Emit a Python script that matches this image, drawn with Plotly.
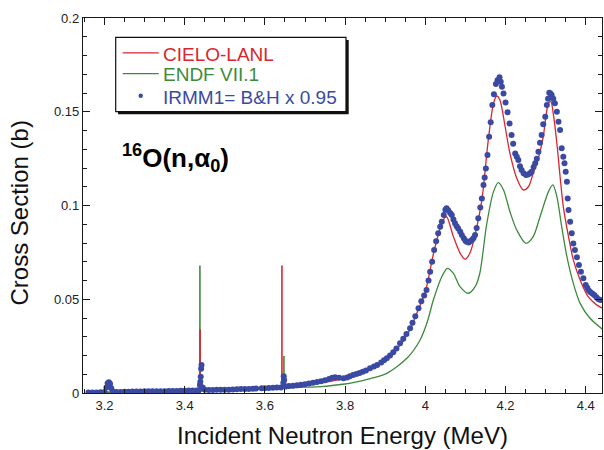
import plotly.graph_objects as go

# ---------------- data ----------------
cielo_e = [3.16, 3.20, 3.30, 3.40, 3.45, 3.50, 3.55, 3.60, 3.65, 3.70, 3.75, 3.80, 3.82,
           3.86, 3.90, 3.94, 3.96, 3.98, 4.00, 4.02, 4.035, 4.045, 4.053, 4.07, 4.087,
           4.099, 4.111, 4.124, 4.141, 4.157, 4.170, 4.178, 4.186, 4.199, 4.211, 4.228,
           4.244, 4.257, 4.269, 4.284, 4.294, 4.307, 4.313, 4.319, 4.328, 4.336, 4.344,
           4.357, 4.369, 4.386, 4.406, 4.427, 4.444]
cielo_xs = [0.0003, 0.0004, 0.0007, 0.0012, 0.0015, 0.0018, 0.0021, 0.0025, 0.0031, 0.0041,
            0.0057, 0.0078, 0.0088, 0.0122, 0.0175, 0.0262, 0.0332, 0.0432, 0.0540, 0.0740,
            0.0865, 0.0925, 0.0940, 0.0834, 0.0745, 0.0713, 0.0745, 0.0843, 0.1030, 0.1350,
            0.1545, 0.1584, 0.1563, 0.1420, 0.1278, 0.1145, 0.1083, 0.1100, 0.1172, 0.1270,
            0.1367, 0.1545, 0.1554, 0.1490, 0.1332, 0.1154, 0.0994, 0.0834, 0.0710, 0.0603,
            0.0514, 0.0470, 0.0450]

endf_e = [3.16, 3.30, 3.40, 3.50, 3.60, 3.65, 3.70, 3.74, 3.80, 3.82, 3.86, 3.904, 3.954,
          3.987, 4.005, 4.020, 4.041, 4.055, 4.07, 4.0865, 4.107, 4.125, 4.136, 4.153,
          4.170, 4.182, 4.195, 4.211, 4.228, 4.251, 4.269, 4.286, 4.307, 4.318, 4.328,
          4.340, 4.353, 4.369, 4.386, 4.410, 4.444]
endf_xs = [0.0003, 0.0006, 0.0011, 0.0016, 0.0022, 0.0026, 0.0031, 0.0034, 0.0048, 0.0055,
           0.0075, 0.0105, 0.0185, 0.0283, 0.0380, 0.0496, 0.0620, 0.0665, 0.0638, 0.0567,
           0.0532, 0.0570, 0.0640, 0.0900, 0.1074, 0.1122, 0.1083, 0.0967, 0.0869, 0.0798,
           0.0834, 0.0940, 0.1074, 0.1110, 0.1047, 0.0887, 0.0727, 0.0585, 0.0478, 0.0400,
           0.0336]

# narrow resonance spikes: energy, base, top
cielo_spike_e = [3.4385, 3.6425]
cielo_spike_base = [0.0014, 0.0030]
cielo_spike_top = [0.0340, 0.0680]
endf_spike_e = [3.438, 3.6475]
endf_spike_base = [0.0013, 0.0027]
endf_spike_top = [0.0680, 0.0197]

irmm_e = [3.160, 3.170, 3.180, 3.190, 3.200, 3.205, 3.208, 3.211, 3.214, 3.217, 3.222,
          3.230, 3.240, 3.250, 3.260, 3.270, 3.280, 3.290, 3.300, 3.310, 3.320, 3.330,
          3.340, 3.350, 3.360, 3.370, 3.380, 3.390, 3.400, 3.410, 3.420, 3.430, 3.436,
          3.438, 3.439, 3.440, 3.441, 3.442, 3.445, 3.450, 3.460, 3.470, 3.480, 3.490,
          3.500, 3.510, 3.520, 3.530, 3.540, 3.550, 3.560, 3.570, 3.578, 3.592, 3.600,
          3.610, 3.620, 3.630, 3.640, 3.646, 3.647, 3.648, 3.652, 3.660, 3.670, 3.680,
          3.690, 3.700, 3.710, 3.720, 3.730, 3.740, 3.750, 3.760, 3.768, 3.775, 3.785,
          3.796, 3.805, 3.812, 3.820, 3.828, 3.836, 3.844, 3.852, 3.862, 3.872, 3.880,
          3.890, 3.897, 3.904, 3.912, 3.920, 3.928, 3.937, 3.945, 3.953, 3.962, 3.968,
          3.975, 3.983, 3.990, 3.997, 4.003, 4.008, 4.012, 4.017, 4.022, 4.027, 4.032,
          4.037, 4.041, 4.046, 4.050, 4.053, 4.057, 4.062, 4.066, 4.070, 4.074, 4.078,
          4.082, 4.087, 4.091, 4.096, 4.100, 4.103, 4.108, 4.112, 4.116, 4.120, 4.124,
          4.128, 4.132, 4.137, 4.141, 4.145, 4.148, 4.151, 4.155, 4.159, 4.163, 4.167,
          4.171, 4.176, 4.180, 4.185, 4.188, 4.191, 4.195, 4.200, 4.205, 4.210, 4.215,
          4.219, 4.224, 4.228, 4.232, 4.236, 4.240, 4.245, 4.251, 4.256, 4.261, 4.265,
          4.270, 4.274, 4.278, 4.282, 4.286, 4.290, 4.294, 4.299, 4.303, 4.306, 4.309,
          4.312, 4.315, 4.319, 4.323, 4.328, 4.332, 4.336, 4.340, 4.344, 4.347, 4.350,
          4.353, 4.355, 4.357, 4.361, 4.365, 4.369, 4.373, 4.378, 4.383, 4.388, 4.394,
          4.400, 4.404, 4.408, 4.412, 4.417, 4.422, 4.427, 4.432, 4.437]
irmm_xs = [0.0003, 0.0003, 0.0003, 0.0004, 0.0006, 0.0030, 0.0052, 0.0058, 0.0050, 0.0025,
           0.0007, 0.0006, 0.0006, 0.0007, 0.0007, 0.0008, 0.0008, 0.0008, 0.0009, 0.0009,
           0.0009, 0.0010, 0.0010, 0.0010, 0.0011, 0.0011, 0.0011, 0.0012, 0.0012, 0.0013,
           0.0013, 0.0014, 0.0015, 0.0043, 0.0060, 0.0087, 0.0130, 0.0149, 0.0030, 0.0017,
           0.0016, 0.0016, 0.0017, 0.0017, 0.0018, 0.0018, 0.0019, 0.0020, 0.0021, 0.0022,
           0.0022, 0.0023, 0.0024, 0.0025, 0.0026, 0.0027, 0.0028, 0.0029, 0.0030, 0.0055,
           0.0090, 0.0070, 0.0035, 0.0037, 0.0039, 0.0042, 0.0044, 0.0047, 0.0051, 0.0055,
           0.0059, 0.0063, 0.0068, 0.0075, 0.0081, 0.0084, 0.0081, 0.0079, 0.0083, 0.0089,
           0.0096, 0.0101, 0.0107, 0.0113, 0.0120, 0.0132, 0.0142, 0.0150, 0.0163, 0.0175,
           0.0185, 0.0200, 0.0218, 0.0238, 0.0265, 0.0290, 0.0315, 0.0345, 0.0375, 0.0410,
           0.0452, 0.0490, 0.0520, 0.0550, 0.0600, 0.0647, 0.0700, 0.0763, 0.0810, 0.0852,
           0.0887, 0.0914, 0.0950, 0.0978, 0.0985, 0.0975, 0.0960, 0.0949, 0.0925, 0.0905,
           0.0890, 0.0878, 0.0860, 0.0843, 0.0825, 0.0812, 0.0807, 0.0803, 0.0810, 0.0816,
           0.0825, 0.0843, 0.0880, 0.0932, 0.0990, 0.1038, 0.1110, 0.1150, 0.1198, 0.1270,
           0.1367, 0.1444, 0.1536, 0.1593, 0.1648, 0.1668, 0.1684, 0.1660, 0.1634, 0.1598,
           0.1550, 0.1497, 0.1438, 0.1376, 0.1330, 0.1278, 0.1260, 0.1243, 0.1210, 0.1190,
           0.1172, 0.1163, 0.1165, 0.1172, 0.1180, 0.1205, 0.1225, 0.1250, 0.1287, 0.1335,
           0.1376, 0.1433, 0.1474, 0.1536, 0.1570, 0.1602, 0.1598, 0.1589, 0.1570, 0.1545,
           0.1500, 0.1447, 0.1403, 0.1305, 0.1260, 0.1225, 0.1180, 0.1127, 0.1038, 0.0976,
           0.0914, 0.0852, 0.0798, 0.0763, 0.0724, 0.0683, 0.0647, 0.0612, 0.0576, 0.0560,
           0.0545, 0.0538, 0.0530, 0.0522, 0.0510, 0.0500, 0.0496]

x_tick_vals = [3.2, 3.4, 3.6, 3.8, 4.0, 4.2, 4.4]
x_tick_text = ["3.2", "3.4", "3.6", "3.8", "4", "4.2", "4.4"]
y_tick_vals = [0, 0.05, 0.1, 0.15, 0.2]
y_tick_text = ["0", "0.05", "0.1", "0.15", "0.2"]

series_names = ["CIELO-LANL", "ENDF VII.1", "IRMM1= B&H x 0.95"]
x_title = "Incident Neutron Energy (MeV)"
y_title = "Cross Section (b)"

# ---------------- styling ----------------
RED = "#d9262e"
GREEN = "#3d8a3d"
BLUE = "#3a4aa2"
FONT = "Liberation Sans, Arial, Helvetica, sans-serif"

# plot-area geometry in pixels (for placing the key box and titles)
L, R, T, B = 83, 602, 18, 393
def px(x):
    return (x - L) / (R - L)
def py(y):
    return (B - y) / (B - T)

fig = go.Figure()

# spikes (drawn first, under dots)
for e, b, t in zip(endf_spike_e, endf_spike_base, endf_spike_top):
    fig.add_trace(go.Scatter(x=[e, e], y=[b, t], mode="lines",
                             line=dict(color=GREEN, width=1.6), showlegend=False,
                             hoverinfo="skip"))
for e, b, t in zip(cielo_spike_e, cielo_spike_base, cielo_spike_top):
    fig.add_trace(go.Scatter(x=[e, e], y=[b, t], mode="lines",
                             line=dict(color=RED, width=1.6), showlegend=False,
                             hoverinfo="skip"))

fig.add_trace(go.Scatter(
    x=cielo_e, y=cielo_xs, mode="lines", name=series_names[0], showlegend=False,
    line=dict(color=RED, width=1.3, shape="spline", smoothing=0.8)))
fig.add_trace(go.Scatter(
    x=endf_e, y=endf_xs, mode="lines", name=series_names[1], showlegend=False,
    line=dict(color=GREEN, width=1.3, shape="spline", smoothing=0.8)))
fig.add_trace(go.Scatter(
    x=irmm_e, y=irmm_xs, mode="markers", name=series_names[2], showlegend=False,
    marker=dict(color=BLUE, size=6, line=dict(width=0))))

axis_common = dict(
    showline=True, linecolor="#1a1a1a", linewidth=1.4, mirror="ticks",
    ticks="inside", tickcolor="#1a1a1a", showgrid=False, zeroline=False,
    tickfont=dict(family=FONT, size=13, color="#222222"),
)

fig.update_xaxes(
    range=[3.1465, 4.4405], tickmode="array", tickvals=x_tick_vals,
    ticktext=x_tick_text, ticklen=7, tickwidth=1.2,
    minor=dict(tick0=3.2, dtick=0.05, ticks="inside", ticklen=3.5,
               tickcolor="#1a1a1a", tickwidth=1, showgrid=False),
    title=dict(text=x_title,
               font=dict(family=FONT, size=24, color="#111111"), standoff=15),
    **axis_common)
fig.update_yaxes(
    range=[0, 0.2], tickmode="array", tickvals=y_tick_vals,
    ticktext=y_tick_text, ticklen=7, tickwidth=1.2,
    minor=dict(tick0=0, dtick=0.01, ticks="inside", ticklen=3.5,
               tickcolor="#1a1a1a", tickwidth=1, showgrid=False),
    **axis_common)

# y-axis title placed as rotated text
fig.add_annotation(xref="paper", yref="paper", x=px(19), y=py(213.5),
                   xanchor="center", yanchor="middle", showarrow=False,
                   textangle=-90, text=y_title,
                   font=dict(family=FONT, size=24, color="#111111"))

# ---- key box (with drop shadow) ----
fig.add_shape(type="rect", xref="paper", yref="paper",
              x0=px(118), x1=px(348.7), y0=py(114.3), y1=py(40),
              fillcolor="#111111", line=dict(width=0), layer="above")
fig.add_shape(type="rect", xref="paper", yref="paper",
              x0=px(115.7), x1=px(346), y0=py(111.7), y1=py(37.3),
              fillcolor="white", line=dict(color="#111111", width=1.2), layer="above")
key_rows = [52.9, 73.6, 95.8]
key_colors = [RED, GREEN, BLUE]
for i, (name, col, yy) in enumerate(zip(series_names, key_colors, key_rows)):
    if i < 2:
        fig.add_shape(type="line", xref="paper", yref="paper",
                      x0=px(122.7), x1=px(158.7), y0=py(yy), y1=py(yy),
                      line=dict(color=col, width=1.3), layer="above")
    else:
        fig.add_shape(type="circle", xref="paper", yref="paper",
                      x0=px(138.5), x1=px(142.9), y0=py(yy + 2.2), y1=py(yy - 2.2),
                      fillcolor=col, line=dict(width=0), layer="above")
    fig.add_annotation(xref="paper", yref="paper", x=px(160.5), y=py(yy + 1.2),
                       xanchor="left", yanchor="middle", showarrow=False,
                       text=name, font=dict(family=FONT, size=19, color=col))

fig.add_annotation(
    xref="paper", yref="paper", x=px(120), y=py(158),
    xanchor="left", yanchor="middle", showarrow=False,
    text="<b><sup>16</sup>O(n,α<sub>0</sub>)</b>",
    font=dict(family=FONT, size=26, color="#000000"))

fig.update_layout(
    width=604, height=450,
    margin=dict(l=L, r=604 - R, t=T, b=450 - B),
    paper_bgcolor="white", plot_bgcolor="white",
    showlegend=False,
)

fig.write_html("out.html")
